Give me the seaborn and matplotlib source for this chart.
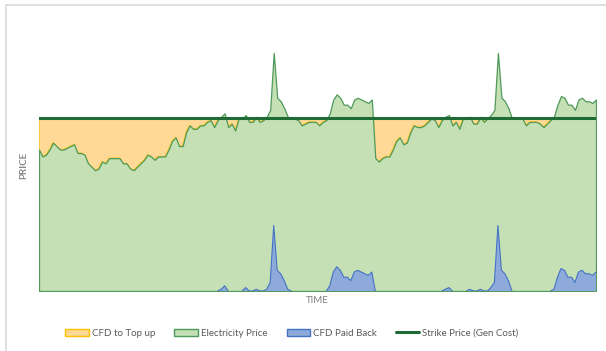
import numpy as np
import pandas as pd
import matplotlib
matplotlib.use("Agg")
import matplotlib.pyplot as plt
import seaborn as sns
from matplotlib.patches import Patch, Rectangle
from matplotlib.lines import Line2D

# Wholesale electricity price over time against the CfD strike price
price = [82, 78, 79, 82, 86, 84, 82, 82, 83, 84,
         85, 80, 80, 79, 74, 72, 70, 71, 75, 74,
         77, 77, 77, 77, 74, 74, 71, 70, 72, 74,
         76, 79, 78, 76, 78, 78, 78, 82, 87, 89,
         84, 84, 92, 96, 94, 94, 96, 96, 98, 99,
         95, 99, 101, 103, 95, 97, 93, 100, 100, 102,
         98, 98, 101, 98, 99, 101, 105, 138, 112, 110,
         106, 101, 100, 100, 99, 96, 97, 98, 98, 98,
         96, 98, 99, 103, 111, 114, 112, 108, 108, 106,
         111, 112, 111, 110, 109, 111, 77, 75, 77, 78,
         78, 82, 87, 89, 85, 86, 92, 96, 95, 95,
         96, 98, 100, 99, 95, 99, 101, 102, 96, 98,
         94, 100, 100, 101, 97, 97, 101, 98, 100, 102,
         105, 138, 112, 110, 106, 100, 100, 100, 100, 96,
         98, 98, 98, 97, 95, 97, 99, 101, 108, 113,
         112, 108, 108, 105, 111, 112, 110, 110, 109, 111]
strike = 100

series_labels = ["CFD to Top up", "Electricity Price", "CFD Paid Back",
                 "Strike Price (Gen Cost)"]

c_topup_fill, c_topup_edge = "#ffd995", "#ffc000"
c_price_fill, c_price_edge = "#c5e0b4", "#4f9a5c"
c_back_fill, c_back_edge = "#8eaadb", "#4472c4"
c_strike = "#1f6b35"
c_text = "#595959"

sns.set_theme(style="white")
plt.rcParams["font.family"] = ["Lato", "DejaVu Sans"]

p = np.array(price, dtype=float)
t = np.arange(len(p))
df = pd.DataFrame({"time": t, "price": p, "strike": float(strike)})
paid_back = np.clip(p - strike, 0, None)

fig = plt.figure(figsize=(6.06, 3.51), dpi=100)
ax = fig.add_axes([39 / 606, 1 - 291 / 351, 557 / 606, 251 / 351])

# top-up region between price and strike
ax.fill_between(t, p, strike, where=p < strike, interpolate=True,
                facecolor=c_topup_fill, edgecolor=c_topup_edge, lw=0.8, zorder=1)
# electricity price area
ax.fill_between(t, 0, p, facecolor=c_price_fill, edgecolor=c_price_edge,
                lw=0.9, zorder=2)
# strike price line
sns.lineplot(data=df, x="time", y="strike", ax=ax, color=c_strike, lw=2.2,
             zorder=4, legend=False)
# amount paid back above strike, drawn from zero
ax.fill_between(t, 0, paid_back, facecolor=c_back_fill, edgecolor="none",
                lw=0, zorder=3)
active = (paid_back > 0) | (np.roll(paid_back, 1) > 0) | (np.roll(paid_back, -1) > 0)
ax.plot(t, np.where(active, paid_back, np.nan), color=c_back_edge, lw=0.8, zorder=3)

ax.set_xlim(0, len(p) - 1)
ax.set_ylim(0, 145.5)
ax.set_xticks([])
ax.set_yticks([])
for s in ax.spines.values():
    s.set_visible(False)
ax.set_facecolor("none")
ax.set_xlabel("TIME", color="#808080", fontsize=7, labelpad=3.5)
ax.set_ylabel("PRICE", color="#8c8c8c", fontsize=7, labelpad=8, fontweight="bold")

handles = [
    Patch(facecolor=c_topup_fill, edgecolor=c_topup_edge, lw=1),
    Patch(facecolor=c_price_fill, edgecolor=c_price_edge, lw=1),
    Patch(facecolor=c_back_fill, edgecolor=c_back_edge, lw=1),
    Line2D([0], [0], color=c_strike, lw=2.2),
]
fig.legend(handles, series_labels, loc="center", ncol=4,
           bbox_to_anchor=(292 / 606, 1 - 333 / 351), frameon=False,
           fontsize=7, labelcolor=c_text, handlelength=2.4, handleheight=0.7,
           handletextpad=0.3, columnspacing=2.0)

fig.patches.append(Rectangle((6 / 606, -0.1), 1.2, 1.1 - 5 / 351,
                             transform=fig.transFigure, fill=False,
                             edgecolor="#d9d9d9", lw=1.2))

fig.savefig("out.png", dpi=100)
